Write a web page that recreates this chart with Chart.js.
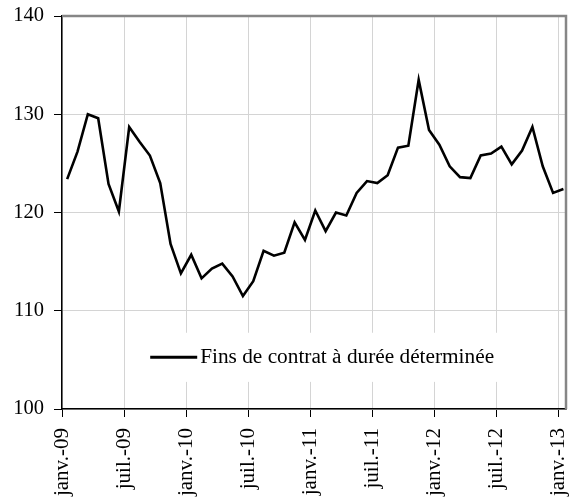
<!DOCTYPE html>
<html>
<head>
<meta charset="utf-8">
<script src="https://cdn.jsdelivr.net/npm/chart.js@4/dist/chart.umd.min.js"></script>
<style>
  html, body { margin: 0; padding: 0; background: #fff; }
  #wrap { width: 577px; height: 500px; position: relative; }
</style>
</head>
<body>
<div id="wrap"><canvas id="c"></canvas></div>
<script>
// ---- data ----
const monthNames = ['janv.', 'févr.', 'mars', 'avr.', 'mai', 'juin', 'juil.', 'août', 'sept.', 'oct.', 'nov.', 'déc.'];
const years = ['09', '10', '11', '12', '13'];
const seriesLabel = 'Fins de contrat à durée déterminée';
const values = [
  123.4, 126.2, 130.0, 129.6, 122.9, 120.1, 128.7, 127.2, 125.8, 123.0, 116.8, 113.8,
  115.7, 113.3, 114.3, 114.8, 113.5, 111.5, 113.0, 116.1, 115.6, 115.9, 119.0, 117.2,
  120.2, 118.1, 120.0, 119.7, 122.0, 123.2, 123.0, 123.8, 126.6, 126.8, 133.5, 128.4,
  126.9, 124.7, 123.6, 123.5, 125.8, 126.0, 126.7, 124.9, 126.3, 128.7, 124.7, 122.0,
  122.4
];
const tickLabels = ['janv.-09', 'juil.-09', 'janv.-10', 'juil.-10', 'janv.-11', 'juil.-11', 'janv.-12', 'juil.-12', 'janv.-13'];
const yTicks = [100, 110, 120, 130, 140];

// categories: one per month
const categories = [];
years.forEach(y => monthNames.forEach(m => categories.push(m + '-' + y)));
categories.length = values.length;

const tickIndex = tickLabels.map(t => categories.indexOf(t));
const points = values.map((v, i) => ({ x: i + 0.5, y: v }));

const FONT = 'Liberation Serif, Times New Roman, serif';

const framePlugin = {
  id: 'frame',
  afterDraw(chart) {
    const { ctx, chartArea: a } = chart;
    ctx.save();
    // top & right border
    ctx.strokeStyle = '#868686';
    ctx.lineWidth = 2.5;
    ctx.beginPath();
    ctx.moveTo(a.left, a.top);
    ctx.lineTo(a.right, a.top);
    ctx.lineTo(a.right, a.bottom);
    ctx.stroke();
    // legend inside plot
    const ds = chart.data.datasets[0];
    const w = a.right - a.left, h = a.bottom - a.top;
    const bx = a.left + 0.155 * w, bw = 0.79 * w;
    const by = a.top + 0.806 * h, bh = 0.125 * h;
    ctx.fillStyle = '#fff';
    ctx.fillRect(bx, by, bw, bh);
    const cy = by + bh / 2;
    const lx = a.left + 0.175 * w;
    ctx.strokeStyle = ds.borderColor;
    ctx.lineWidth = 3;
    ctx.beginPath();
    ctx.moveTo(lx, cy);
    ctx.lineTo(lx + 47, cy);
    ctx.stroke();
    ctx.fillStyle = '#000';
    ctx.font = '21.3px ' + FONT;
    ctx.textBaseline = 'middle';
    ctx.textAlign = 'left';
    ctx.fillText(ds.label, lx + 50, cy);
    ctx.restore();
  }
};

new Chart(document.getElementById('c'), {
  type: 'line',
  data: {
    datasets: [{
      label: seriesLabel,
      data: points,
      borderColor: '#000',
      borderWidth: 2.6,
      pointRadius: 0,
      tension: 0,
      fill: false
    }]
  },
  options: {
    responsive: true,
    maintainAspectRatio: false,
    animation: false,
    layout: { padding: { top: 16, right: 11, left: 0, bottom: 0 } },
    plugins: { legend: { display: false }, tooltip: { enabled: false } },
    scales: {
      x: {
        type: 'linear',
        min: 0,
        max: 48.75,
        afterBuildTicks: s => { s.ticks = tickIndex.map(v => ({ value: v })); },
        afterFit: s => { s.height = 91; s.paddingLeft = 0; s.paddingRight = 0; },
        ticks: {
          autoSkip: false,
          minRotation: 90,
          maxRotation: 90,
          padding: 11,
          color: '#000',
          font: { family: FONT, size: 21 },
          callback: v => tickLabels[tickIndex.indexOf(v)]
        },
        grid: { color: '#d4d4d4', lineWidth: 1, tickLength: 8, tickColor: '#000' },
        border: { color: '#000', width: 1.5 }
      },
      y: {
        min: 100,
        max: 140,
        afterBuildTicks: s => { s.ticks = yTicks.map(v => ({ value: v })); },
        afterFit: s => { s.width = 62; s.paddingTop = 0; s.paddingBottom = 0; },
        ticks: {
          padding: 10,
          color: '#000',
          font: { family: FONT, size: 20.5 }
        },
        grid: { color: '#d4d4d4', lineWidth: 1, tickLength: 8, tickColor: '#000' },
        border: { color: '#000', width: 1.5 }
      }
    }
  },
  plugins: [framePlugin]
});
</script>
</body>
</html>
